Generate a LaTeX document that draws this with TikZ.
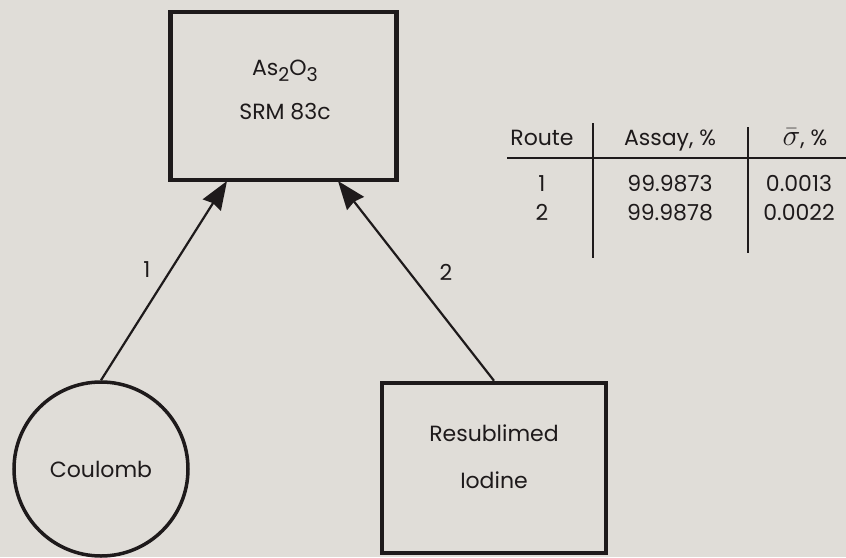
\documentclass[tikz,border=0pt]{standalone}
\usepackage{fontspec}
\setmainfont{Poppins}
\usetikzlibrary{arrows.meta}
\definecolor{paper}{RGB}{224,221,216}
\definecolor{ink}{RGB}{30,26,27}
\newcommand{\lowsub}[1]{\raisebox{-6pt}{\fontsize{19}{22}\selectfont #1}}
\newcommand{\meansigma}{\scalebox{1.45}{$\bar{\sigma}$}}
\begin{document}
\begin{tikzpicture}[x=1pt,y=-1pt,
  every node/.style={text=ink, font=\fontsize{22}{26}\selectfont},
  block/.style={draw=ink, line width=4.5pt, rectangle, inner sep=0pt},
  source/.style={draw=ink, line width=3.5pt, circle, inner sep=0pt},
  conn/.style={draw=ink, line width=2.2pt, -{Stealth[scale=2.2,inset=1pt]}},
  rule/.style={draw=ink, line width=2pt},
  cell/.style={inner sep=0pt, anchor=base}
]
  % paper and page extent
  \fill[paper] (0,0) rectangle (846,557);
  \useasboundingbox (0,0) rectangle (846,557);

  % the compound and its two assay routes
  \node[block, minimum width=226pt, minimum height=168pt] (srm) at (283.5,96) {};
  \node[cell] (srmA) at (285,75) {As\lowsub{2}O\lowsub{3}};
  \node[cell] (srmB) at (285,119) {SRM 83c};
  \node[source, minimum size=174pt] (coul) at (101,469) {Coulomb};
  \node[block, minimum width=224pt, minimum height=170pt] (iod) at (494,468) {};
  \node[cell] (iodA) at (494,441) {Resublimed};
  \node[cell] (iodB) at (494,488) {Iodine};

  \coordinate (in1) at (227,181);
  \coordinate (in2) at (338,181);
  \draw[conn] (coul.north) -- (in1);
  \draw[conn] (iod.north) -- (in2);
  \node (lab1) at (147,270) {1};
  \node (lab2) at (446,272) {2};

  % results table
  \draw[rule] (507,158) -- (846,158);
  \draw[rule] (593,123) -- (593,258);
  \draw[rule] (748,127) -- (748,253);
  \node[cell] (h1) at (542,145) {Route};
  \node[cell] (h2) at (670,145) {Assay, \%};
  \node[cell] (h3) at (805,145) {\meansigma, \%};
  \node[cell] (r11) at (542,191) {1};
  \node[cell] (r12) at (670,191) {99.9873};
  \node[cell] (r13) at (799,191) {0.0013};
  \node[cell] (r21) at (542,220) {2};
  \node[cell] (r22) at (670,220) {99.9878};
  \node[cell] (r23) at (799,220) {0.0022};
\end{tikzpicture}
\end{document}
